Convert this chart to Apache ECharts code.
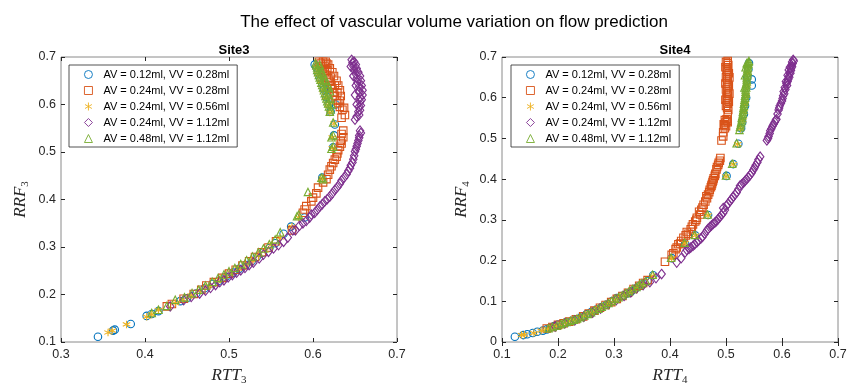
<!DOCTYPE html>
<html>
<head>
<meta charset="utf-8">
<script src="https://cdn.jsdelivr.net/npm/echarts@6/dist/echarts.min.js"></script>
<style>html,body{margin:0;padding:0;background:#fff}#c{width:857px;height:391px}</style>
</head>
<body>
<div id="c"></div>
<script>
// ---------- DATA ----------
const seriesNames = ['AV = 0.12ml, VV = 0.28ml','AV = 0.24ml, VV = 0.28ml','AV = 0.24ml, VV = 0.56ml','AV = 0.24ml, VV = 1.12ml','AV = 0.48ml, VV = 1.12ml'];
const xTicks3 = [0.3,0.4,0.5,0.6,0.7];
const yTicks3 = [0.1,0.2,0.3,0.4,0.5,0.6,0.7];
const xTicks4 = [0.1,0.2,0.3,0.4,0.5,0.6,0.7];
const yTicks4 = [0,0.1,0.2,0.3,0.4,0.5,0.6,0.7];

// Site3
const s3_av012_vv028 = [[0.344,0.111],[0.362,0.124],[0.364,0.126],[0.383,0.138],[0.402,0.155],[0.408,0.159],[0.416,0.165],[0.442,0.186],[0.450,0.192],[0.461,0.202],[0.471,0.213],[0.480,0.222],[0.488,0.229],[0.496,0.237],[0.505,0.246],[0.512,0.254],[0.520,0.262],[0.527,0.270],[0.533,0.279],[0.540,0.288],[0.548,0.298],[0.555,0.308],[0.565,0.328],[0.574,0.343],[0.590,0.362],[0.611,0.446],[0.624,0.510],[0.625,0.535],[0.626,0.558],[0.621,0.585],[0.627,0.600],[0.619,0.600],[0.616,0.616],[0.613,0.632],[0.611,0.645],[0.608,0.657],[0.606,0.668],[0.604,0.678],[0.602,0.684]];
const s3_av024_vv028 = [[0.426,0.175],[0.432,0.180],[0.446,0.191],[0.458,0.201],[0.467,0.210],[0.473,0.219],[0.482,0.226],[0.492,0.235],[0.500,0.244],[0.508,0.252],[0.516,0.261],[0.524,0.270],[0.531,0.279],[0.539,0.289],[0.547,0.299],[0.556,0.312],[0.575,0.335],[0.588,0.372],[0.590,0.379],[0.592,0.386],[0.598,0.396],[0.600,0.404],[0.604,0.413],[0.606,0.425],[0.612,0.436],[0.616,0.443],[0.618,0.452],[0.620,0.463],[0.622,0.470],[0.624,0.477],[0.626,0.484],[0.628,0.490],[0.629,0.497],[0.630,0.504],[0.632,0.511],[0.634,0.518],[0.633,0.524],[0.636,0.531],[0.634,0.538],[0.636,0.545],[0.634,0.572],[0.638,0.578],[0.635,0.589],[0.632,0.595],[0.637,0.593],[0.630,0.603],[0.628,0.609],[0.626,0.618],[0.625,0.626],[0.623,0.634],[0.622,0.641],[0.620,0.648],[0.618,0.655],[0.616,0.662],[0.614,0.668],[0.612,0.675],[0.610,0.681],[0.609,0.686],[0.607,0.690],[0.612,0.690],[0.617,0.672],[0.621,0.657],[0.626,0.640],[0.629,0.625],[0.615,0.690],[0.618,0.684],[0.620,0.676],[0.623,0.668],[0.625,0.660],[0.628,0.650],[0.630,0.640],[0.632,0.630],[0.633,0.618],[0.632,0.608],[0.614,0.680],[0.616,0.686]];
const s3_av024_vv056 = [[0.356,0.120],[0.361,0.124],[0.378,0.137],[0.402,0.153],[0.408,0.158],[0.416,0.167],[0.436,0.182],[0.445,0.189],[0.455,0.198],[0.466,0.208],[0.476,0.218],[0.486,0.228],[0.494,0.236],[0.503,0.245],[0.511,0.254],[0.519,0.263],[0.527,0.272],[0.535,0.282],[0.543,0.293],[0.551,0.305],[0.561,0.320],[0.575,0.343],[0.583,0.362],[0.611,0.444],[0.623,0.508],[0.623,0.531],[0.625,0.560],[0.620,0.583],[0.618,0.598],[0.615,0.615],[0.612,0.630],[0.609,0.648],[0.606,0.664],[0.604,0.678]];
const s3_av024_vv112 = [[0.430,0.175],[0.446,0.188],[0.465,0.202],[0.478,0.214],[0.489,0.226],[0.499,0.236],[0.509,0.246],[0.519,0.256],[0.529,0.267],[0.536,0.276],[0.541,0.284],[0.547,0.290],[0.553,0.297],[0.559,0.304],[0.565,0.311],[0.576,0.335],[0.579,0.335],[0.592,0.355],[0.596,0.362],[0.602,0.372],[0.608,0.385],[0.614,0.396],[0.620,0.406],[0.626,0.420],[0.632,0.433],[0.637,0.446],[0.642,0.460],[0.645,0.472],[0.648,0.485],[0.650,0.501],[0.652,0.512],[0.654,0.524],[0.655,0.535],[0.656,0.545],[0.650,0.568],[0.652,0.575],[0.654,0.585],[0.655,0.596],[0.656,0.606],[0.656,0.616],[0.655,0.626],[0.655,0.637],[0.653,0.646],[0.652,0.655],[0.651,0.664],[0.649,0.673],[0.648,0.681],[0.647,0.688],[0.646,0.694],[0.650,0.620],[0.651,0.640],[0.648,0.660],[0.645,0.680],[0.652,0.600],[0.649,0.690],[0.651,0.684],[0.652,0.676],[0.654,0.668],[0.656,0.660],[0.657,0.650],[0.658,0.640],[0.659,0.630],[0.659,0.620],[0.658,0.610],[0.657,0.598],[0.656,0.588],[0.655,0.578],[0.605,0.378],[0.611,0.390],[0.617,0.401],[0.623,0.413],[0.629,0.426],[0.634,0.440],[0.640,0.453],[0.644,0.466],[0.647,0.478],[0.649,0.492],[0.651,0.506],[0.653,0.518],[0.655,0.530],[0.657,0.540],[0.588,0.350],[0.584,0.345],[0.570,0.320],[0.598,0.368],[0.455,0.195],[0.472,0.208],[0.484,0.220],[0.494,0.230],[0.504,0.241],[0.514,0.251],[0.524,0.262]];
const s3_av048_vv112 = [[0.408,0.161],[0.416,0.168],[0.426,0.176],[0.436,0.189],[0.447,0.194],[0.456,0.203],[0.464,0.210],[0.472,0.219],[0.480,0.227],[0.487,0.235],[0.494,0.242],[0.500,0.249],[0.507,0.256],[0.514,0.264],[0.521,0.272],[0.528,0.280],[0.535,0.289],[0.541,0.297],[0.548,0.306],[0.555,0.316],[0.561,0.331],[0.581,0.365],[0.583,0.368],[0.594,0.416],[0.610,0.446],[0.612,0.443],[0.622,0.507],[0.624,0.511],[0.622,0.531],[0.624,0.535],[0.624,0.562],[0.620,0.585],[0.621,0.590],[0.619,0.596],[0.618,0.602],[0.617,0.607],[0.616,0.613],[0.615,0.618],[0.614,0.624],[0.613,0.630],[0.612,0.636],[0.611,0.641],[0.610,0.646],[0.609,0.652],[0.608,0.657],[0.607,0.662],[0.606,0.668],[0.605,0.673],[0.605,0.678],[0.604,0.683],[0.603,0.687],[0.618,0.620],[0.616,0.635],[0.613,0.650],[0.610,0.665],[0.608,0.684],[0.609,0.676],[0.611,0.668],[0.613,0.660],[0.615,0.652],[0.617,0.644],[0.619,0.636],[0.620,0.628],[0.621,0.612],[0.622,0.600]];

// Site4
const s4_av012_vv028 = [[0.123,0.013],[0.138,0.017],[0.155,0.022],[0.173,0.028],[0.186,0.035],[0.200,0.043],[0.216,0.048],[0.233,0.056],[0.251,0.068],[0.269,0.080],[0.287,0.092],[0.305,0.108],[0.323,0.119],[0.338,0.131],[0.352,0.143],[0.370,0.164],[0.403,0.206],[0.427,0.242],[0.445,0.262],[0.468,0.312],[0.501,0.408],[0.513,0.437],[0.522,0.487],[0.527,0.525],[0.529,0.540],[0.532,0.560],[0.534,0.580],[0.536,0.600],[0.546,0.630],[0.546,0.645],[0.538,0.650],[0.540,0.670],[0.541,0.685],[0.145,0.019],[0.163,0.025],[0.180,0.031],[0.193,0.039],[0.208,0.046],[0.225,0.052],[0.242,0.062],[0.260,0.074],[0.278,0.086],[0.296,0.100],[0.314,0.113],[0.331,0.125],[0.345,0.137],[0.360,0.150]];
const s4_av024_vv028 = [[0.180,0.033],[0.200,0.042],[0.220,0.050],[0.245,0.063],[0.265,0.077],[0.285,0.091],[0.305,0.106],[0.325,0.121],[0.345,0.138],[0.360,0.152],[0.391,0.197],[0.403,0.214],[0.406,0.218],[0.410,0.228],[0.415,0.240],[0.418,0.242],[0.424,0.256],[0.428,0.262],[0.433,0.266],[0.437,0.277],[0.441,0.289],[0.445,0.296],[0.448,0.305],[0.454,0.313],[0.456,0.325],[0.460,0.337],[0.466,0.353],[0.468,0.362],[0.471,0.374],[0.474,0.384],[0.476,0.393],[0.478,0.402],[0.481,0.413],[0.483,0.424],[0.486,0.435],[0.489,0.445],[0.490,0.452],[0.492,0.495],[0.495,0.505],[0.495,0.515],[0.498,0.525],[0.497,0.532],[0.499,0.539],[0.502,0.543],[0.501,0.547],[0.503,0.560],[0.504,0.570],[0.500,0.580],[0.505,0.590],[0.501,0.600],[0.504,0.610],[0.500,0.620],[0.505,0.630],[0.502,0.640],[0.500,0.650],[0.505,0.660],[0.501,0.670],[0.504,0.680],[0.500,0.688],[0.503,0.690],[0.502,0.575],[0.503,0.585],[0.502,0.595],[0.503,0.605],[0.502,0.615],[0.503,0.625],[0.502,0.635],[0.503,0.645],[0.502,0.655],[0.503,0.665],[0.502,0.675],[0.503,0.685],[0.499,0.595],[0.499,0.635],[0.499,0.675],[0.506,0.610],[0.506,0.650],[0.496,0.535],[0.500,0.530],[0.503,0.540],[0.498,0.545],[0.412,0.232],[0.420,0.248],[0.430,0.270],[0.439,0.283],[0.447,0.300],[0.452,0.320],[0.458,0.330],[0.463,0.345],[0.470,0.368],[0.473,0.380],[0.477,0.397],[0.480,0.408],[0.484,0.430],[0.487,0.440],[0.475,0.388],[0.465,0.358],[0.190,0.037],[0.210,0.046],[0.232,0.056],[0.255,0.070],[0.275,0.084],[0.295,0.098],[0.315,0.113],[0.335,0.130],[0.352,0.145]];
const s4_av024_vv056 = [[0.135,0.017],[0.140,0.018],[0.157,0.022],[0.170,0.028],[0.190,0.036],[0.207,0.043],[0.222,0.051],[0.240,0.060],[0.258,0.071],[0.275,0.083],[0.293,0.097],[0.310,0.110],[0.327,0.122],[0.344,0.137],[0.370,0.162],[0.403,0.205],[0.427,0.243],[0.446,0.262],[0.468,0.311],[0.500,0.407],[0.513,0.437],[0.521,0.486],[0.526,0.524],[0.530,0.545],[0.532,0.565],[0.534,0.585],[0.536,0.605],[0.538,0.630],[0.539,0.660],[0.181,0.032],[0.198,0.040],[0.214,0.047],[0.231,0.055],[0.249,0.065],[0.266,0.077],[0.284,0.090],[0.301,0.103],[0.318,0.116],[0.335,0.129],[0.352,0.143]];
const s4_av024_vv112 = [[0.195,0.038],[0.230,0.053],[0.262,0.072],[0.290,0.093],[0.318,0.113],[0.340,0.132],[0.364,0.147],[0.385,0.167],[0.412,0.195],[0.420,0.206],[0.427,0.220],[0.430,0.226],[0.437,0.232],[0.444,0.240],[0.451,0.249],[0.458,0.258],[0.466,0.274],[0.471,0.282],[0.477,0.290],[0.483,0.297],[0.489,0.307],[0.495,0.317],[0.495,0.329],[0.501,0.335],[0.507,0.346],[0.513,0.357],[0.519,0.367],[0.525,0.384],[0.531,0.391],[0.537,0.400],[0.543,0.410],[0.549,0.423],[0.553,0.434],[0.558,0.448],[0.561,0.455],[0.573,0.495],[0.576,0.505],[0.579,0.519],[0.583,0.530],[0.587,0.540],[0.590,0.547],[0.594,0.570],[0.596,0.580],[0.600,0.592],[0.602,0.605],[0.603,0.615],[0.605,0.625],[0.608,0.635],[0.611,0.645],[0.612,0.652],[0.614,0.662],[0.616,0.672],[0.617,0.680],[0.618,0.688],[0.620,0.693],[0.610,0.655],[0.614,0.675],[0.575,0.500],[0.578,0.512],[0.581,0.524],[0.585,0.535],[0.589,0.545],[0.592,0.560],[0.595,0.575],[0.598,0.586],[0.601,0.598],[0.604,0.610],[0.606,0.620],[0.609,0.630],[0.610,0.640],[0.613,0.650],[0.615,0.660],[0.616,0.667],[0.618,0.676],[0.619,0.684],[0.621,0.690],[0.607,0.640],[0.612,0.668],[0.434,0.229],[0.441,0.236],[0.448,0.245],[0.455,0.254],[0.462,0.266],[0.468,0.278],[0.474,0.286],[0.480,0.293],[0.486,0.302],[0.492,0.312],[0.498,0.324],[0.504,0.340],[0.510,0.351],[0.516,0.362],[0.522,0.375],[0.528,0.387],[0.534,0.396],[0.540,0.405],[0.546,0.416],[0.551,0.428],[0.556,0.441],[0.212,0.046],[0.246,0.062],[0.276,0.082],[0.304,0.103],[0.330,0.122],[0.352,0.140],[0.375,0.157]];
const s4_av048_vv112 = [[0.190,0.037],[0.205,0.044],[0.215,0.049],[0.228,0.055],[0.240,0.061],[0.253,0.069],[0.265,0.078],[0.278,0.087],[0.290,0.096],[0.302,0.106],[0.315,0.115],[0.327,0.125],[0.340,0.135],[0.350,0.145],[0.369,0.165],[0.402,0.207],[0.426,0.244],[0.444,0.263],[0.467,0.313],[0.500,0.409],[0.511,0.438],[0.519,0.488],[0.524,0.521],[0.525,0.528],[0.527,0.540],[0.528,0.550],[0.530,0.560],[0.531,0.570],[0.532,0.580],[0.533,0.590],[0.534,0.600],[0.535,0.610],[0.535,0.620],[0.536,0.630],[0.537,0.640],[0.537,0.650],[0.538,0.660],[0.538,0.670],[0.539,0.680],[0.540,0.688],[0.533,0.625],[0.534,0.655],[0.535,0.675],[0.526,0.533],[0.528,0.545],[0.529,0.555],[0.530,0.565],[0.531,0.575],[0.532,0.585],[0.533,0.595],[0.534,0.605],[0.535,0.615],[0.536,0.625],[0.536,0.635],[0.537,0.645],[0.538,0.655],[0.539,0.665],[0.539,0.675],[0.540,0.683],[0.541,0.690],[0.537,0.685],[0.183,0.034],[0.198,0.040],[0.210,0.047],[0.222,0.052],[0.234,0.058],[0.247,0.065],[0.259,0.073],[0.272,0.082],[0.284,0.091],[0.296,0.101],[0.308,0.110],[0.321,0.120],[0.333,0.130],[0.345,0.140],[0.357,0.150]];

// ---------- STYLE ----------
const colors = ['#0072BD','#D95319','#EDB120','#7E2F8E','#77AC30'];
const symbols = ['circle','rect','path://M0,-10L0,10M-8.66,-5L8.66,5M-8.66,5L8.66,-5','diamond','triangle'];
const sizes = [7.5,7.5,7.5,[7.5,9.5],7.5];
const site3 = [s3_av012_vv028,s3_av024_vv028,s3_av024_vv056,s3_av024_vv112,s3_av048_vv112];
const site4 = [s4_av012_vv028,s4_av024_vv028,s4_av024_vv056,s4_av024_vv112,s4_av048_vv112];

const FONT = 'Liberation Sans, Arial, sans-serif';
const axisColor = '#262626';
const G = [{left:61, top:57, width:336, height:295},{left:502, top:57, width:336, height:295}];

function mainX(gi, ticks, label){
  return {type:'value', gridIndex:gi, min:ticks[0], max:ticks[ticks.length-1], interval:0.1,
    axisLine:{show:false}, splitLine:{show:false},
    axisTick:{inside:true, length:4, lineStyle:{color:axisColor}},
    axisLabel:{color:axisColor, fontSize:12.5, fontFamily:FONT, margin:6, formatter:v=>String(+v.toFixed(1))},
    name:'{a|RTT}{b|'+label+'}', nameLocation:'middle', nameGap:24,
    nameTextStyle:{rich:{a:{fontFamily:'Liberation Serif',fontStyle:'italic',fontSize:17,color:axisColor},
                          b:{fontFamily:'Liberation Serif',fontSize:11,color:axisColor,padding:[9,0,0,0]}}}};
}
function mainY(gi, ticks, label){
  return {type:'value', gridIndex:gi, min:ticks[0], max:ticks[ticks.length-1], interval:0.1,
    axisLine:{show:false}, splitLine:{show:false},
    axisTick:{inside:true, length:4, lineStyle:{color:axisColor}},
    axisLabel:{color:axisColor, fontSize:12.5, fontFamily:FONT, margin:5, formatter:v=>String(+v.toFixed(1))},
    name:'{a|RRF}{b|'+label+'}', nameLocation:'middle', nameGap:30,
    nameTextStyle:{rich:{a:{fontFamily:'Liberation Serif',fontStyle:'italic',fontSize:17,color:axisColor},
                          b:{fontFamily:'Liberation Serif',fontSize:11,color:axisColor,padding:[9,0,0,0]}}}};
}
function mirror(gi, ticks, pos){
  return {type:'value', gridIndex:gi, position:pos, min:ticks[0], max:ticks[ticks.length-1], interval:0.1,
    axisLine:{show:false}, splitLine:{show:false}, axisLabel:{show:false},
    axisTick:{inside:true, length:4, lineStyle:{color:axisColor}}};
}

const series = [];
[site3, site4].forEach((site, gi) => {
  site.forEach((data, i) => {
    series.push({
      type:'scatter', name:seriesNames[i], xAxisIndex:gi, yAxisIndex:gi,
      data:data, symbol:symbols[i], symbolSize:sizes[i],
      itemStyle:{color:'rgba(0,0,0,0)', borderColor:colors[i], borderWidth:1.1, opacity:1},
      emphasis:{disabled:true}, animation:false
    });
  });
});

function legendAt(left){
  return {left:left, top:65, orient:'vertical', data:seriesNames,
    backgroundColor:'#fff', borderColor:'#262626', borderWidth:0.8,
    padding:[4,8,3,15], itemGap:5, itemWidth:8, itemHeight:8,
    itemStyle:{borderWidth:0.9},
    selectedMode:false,
    textStyle:{fontFamily:FONT, fontSize:11, color:'#000', lineHeight:11, padding:[0,0,0,6]}};
}

const option = {
  animation:false,
  backgroundColor:'#fff',
  title:[
    {text:'The effect of vascular volume variation on flow prediction', left:449, top:9, textAlign:'center',
     textStyle:{fontFamily:FONT, fontSize:17, fontWeight:'normal', color:'#000'}},
    {text:'Site3', left:229, top:39, textAlign:'center', textStyle:{fontFamily:FONT, fontSize:13, fontWeight:'bold', color:'#000'}},
    {text:'Site4', left:670, top:39, textAlign:'center', textStyle:{fontFamily:FONT, fontSize:13, fontWeight:'bold', color:'#000'}}
  ],
  grid:G.map(g=>Object.assign({show:true, borderColor:'#8a8a8a', borderWidth:1, backgroundColor:'#fff', containLabel:false}, g)),
  xAxis:[mainX(0,xTicks3,'3'), mainX(1,xTicks4,'4'), mirror(0,xTicks3,'top'), mirror(1,xTicks4,'top')],
  yAxis:[mainY(0,yTicks3,'3'), mainY(1,yTicks4,'4'), mirror(0,yTicks3,'right'), mirror(1,yTicks4,'right')],
  legend:[legendAt(69), legendAt(511)],
  series:series
};

const chart = echarts.init(document.getElementById('c'), null, {renderer:'canvas'});
chart.setOption(option);
</script>
</body>
</html>
